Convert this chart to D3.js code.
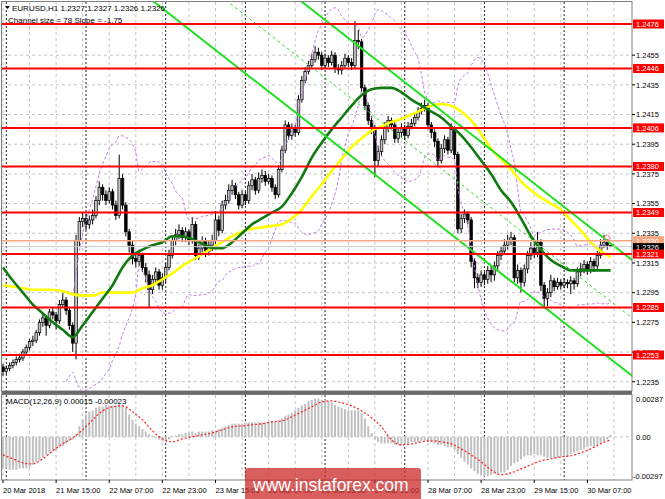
<!DOCTYPE html>
<html><head><meta charset="utf-8">
<script src="https://cdn.jsdelivr.net/npm/d3@7"></script>
<style>html,body{margin:0;padding:0;background:#fff;} svg{display:block;font-family:"Liberation Sans",Arial,sans-serif;}</style>
</head><body><svg id="c" width="665" height="499"></svg>
<script>
// ---------------- data ----------------
const symbolInfo = "EURUSD,H1";
const headerOHLC = ["1.2327", "1.2327", "1.2326", "1.2326"];
const channelText = "Channel size = 78 Slope = -1.75";
const macdText = "MACD(12,26,9) 0.00015 -0.00023";

const firstOpen = 1.2245;
const closes = [1.2242,1.2244,1.2246,1.2248,1.2250,1.2251,1.2255,1.2258,1.2262,1.2263,
1.2268,1.2275,1.2278,1.2273,1.2282,1.2280,1.2276,1.2287,1.2290,1.2283,
1.2273,1.2261,1.2330,1.2343,1.2345,1.2341,1.2344,1.2347,1.2357,1.2366,
1.2361,1.2357,1.2363,1.2354,1.2347,1.2372,1.2354,1.2336,1.2327,1.2318,
1.2316,1.2320,1.2312,1.2307,1.2297,1.2304,1.2309,1.2300,1.2305,1.2312,
1.2320,1.2330,1.2334,1.2337,1.2332,1.2336,1.2330,1.2341,1.2320,1.2325,
1.2330,1.2323,1.2327,1.2330,1.2344,1.2337,1.2354,1.2357,1.2364,1.2367,
1.2361,1.2354,1.2361,1.2357,1.2367,1.2371,1.2364,1.2372,1.2374,1.2370,
1.2372,1.2366,1.2361,1.2378,1.2391,1.2408,1.2401,1.2406,1.2403,1.2425,
1.2438,1.2444,1.2448,1.2452,1.2457,1.2455,1.2448,1.2453,1.2450,1.2455,
1.2446,1.2445,1.2448,1.2453,1.2450,1.2448,1.2465,1.2464,1.2433,1.2421,
1.2411,1.2406,1.2384,1.2390,1.2398,1.2406,1.2411,1.2408,1.2399,1.2403,
1.2406,1.2401,1.2407,1.2409,1.2413,1.2417,1.2419,1.2421,1.2408,1.2403,
1.2397,1.2384,1.2392,1.2398,1.2391,1.2405,1.2388,1.2338,1.2345,1.2348,
1.2344,1.2316,1.2305,1.2302,1.2307,1.2304,1.2310,1.2307,1.2313,1.2320,
1.2323,1.2327,1.2330,1.2332,1.2305,1.2310,1.2302,1.2311,1.2320,1.2325,
1.2322,1.2329,1.2300,1.2291,1.2295,1.2303,1.2299,1.2302,1.2300,1.2302,
1.2301,1.2303,1.2301,1.2309,1.2311,1.2314,1.2310,1.2316,1.2313,1.2320,
1.2327,1.2329,1.2327,1.2326];
const highs = [1.2247,1.2246,1.2248,1.2250,1.2252,1.2254,1.2257,1.2260,1.2264,1.2266,
1.2270,1.2277,1.2281,1.2280,1.2284,1.2285,1.2282,1.2290,1.2295,1.2292,
1.2285,1.2275,1.2334,1.2346,1.2349,1.2348,1.2347,1.2351,1.2360,1.2370,
1.2368,1.2364,1.2366,1.2365,1.2357,1.2388,1.2375,1.2356,1.2338,1.2330,
1.2322,1.2324,1.2322,1.2315,1.2310,1.2307,1.2312,1.2311,1.2308,1.2315,
1.2324,1.2333,1.2338,1.2341,1.2339,1.2339,1.2338,1.2346,1.2343,1.2328,
1.2333,1.2332,1.2330,1.2334,1.2350,1.2347,1.2357,1.2361,1.2368,1.2371,
1.2369,1.2363,1.2364,1.2363,1.2370,1.2375,1.2373,1.2376,1.2378,1.2377,
1.2375,1.2374,1.2368,1.2381,1.2394,1.2411,1.2410,1.2409,1.2408,1.2428,
1.2441,1.2447,1.2451,1.2456,1.2461,1.2460,1.2457,1.2456,1.2455,1.2458,
1.2457,1.2449,1.2451,1.2456,1.2455,1.2453,1.2478,1.2472,1.2466,1.2435,
1.2423,1.2414,1.2408,1.2394,1.2401,1.2410,1.2414,1.2413,1.2410,1.2406,
1.2409,1.2408,1.2410,1.2412,1.2416,1.2420,1.2423,1.2425,1.2423,1.2410,
1.2405,1.2399,1.2395,1.2401,1.2400,1.2409,1.2407,1.2390,1.2348,1.2351,
1.2350,1.2346,1.2318,1.2308,1.2310,1.2309,1.2313,1.2313,1.2316,1.2323,
1.2326,1.2331,1.2334,1.2336,1.2334,1.2314,1.2312,1.2314,1.2323,1.2329,
1.2328,1.2336,1.2331,1.2302,1.2298,1.2307,1.2305,1.2305,1.2304,1.2305,
1.2304,1.2306,1.2305,1.2312,1.2315,1.2317,1.2316,1.2319,1.2318,1.2323,
1.2331,1.2334,1.2331,1.2327];
const lows = [1.2239,1.2240,1.2242,1.2244,1.2246,1.2248,1.2249,1.2253,1.2256,1.2259,
1.2261,1.2266,1.2272,1.2266,1.2271,1.2277,1.2270,1.2274,1.2285,1.2280,
1.2270,1.2255,1.2250,1.2326,1.2339,1.2337,1.2338,1.2341,1.2345,1.2354,
1.2357,1.2354,1.2355,1.2351,1.2344,1.2345,1.2351,1.2333,1.2322,1.2314,
1.2312,1.2313,1.2309,1.2302,1.2285,1.2294,1.2301,1.2297,1.2297,1.2302,
1.2310,1.2318,1.2327,1.2331,1.2329,1.2329,1.2327,1.2328,1.2317,1.2317,
1.2322,1.2319,1.2320,1.2323,1.2328,1.2333,1.2335,1.2351,1.2355,1.2361,
1.2358,1.2351,1.2352,1.2354,1.2355,1.2364,1.2361,1.2362,1.2369,1.2367,
1.2368,1.2363,1.2358,1.2359,1.2376,1.2389,1.2398,1.2398,1.2400,1.2401,
1.2423,1.2436,1.2442,1.2446,1.2450,1.2452,1.2445,1.2446,1.2447,1.2448,
1.2443,1.2442,1.2442,1.2446,1.2447,1.2445,1.2446,1.2459,1.2430,1.2418,
1.2408,1.2402,1.2373,1.2380,1.2387,1.2395,1.2403,1.2405,1.2396,1.2396,
1.2400,1.2398,1.2399,1.2405,1.2407,1.2411,1.2415,1.2417,1.2405,1.2399,
1.2393,1.2380,1.2382,1.2389,1.2388,1.2389,1.2385,1.2335,1.2335,1.2342,
1.2341,1.2312,1.2298,1.2298,1.2299,1.2300,1.2301,1.2302,1.2303,1.2310,
1.2317,1.2321,1.2324,1.2327,1.2302,1.2301,1.2295,1.2299,1.2308,1.2317,
1.2318,1.2319,1.2296,1.2285,1.2286,1.2292,1.2296,1.2297,1.2297,1.2298,
1.2298,1.2294,1.2297,1.2299,1.2306,1.2308,1.2307,1.2308,1.2309,1.2310,
1.2318,1.2325,1.2324,1.2326];

// moving averages read every 3 bars
const maStep = 3;
const maGreen = [1.2312,1.2303,1.2295,1.2287,1.2281,1.2275,1.2270,1.2265,1.2273,1.2282,
1.2291,1.2300,1.2312,1.2320,1.2324,1.2327,1.2329,1.2333,1.2333,1.2331,
1.2328,1.2325,1.2325,1.2329,1.2335,1.2341,1.2345,1.2349,1.2353,1.2362,
1.2373,1.2386,1.2396,1.2405,1.2413,1.2421,1.2428,1.2432,1.2433,1.2433,
1.2430,1.2425,1.2421,1.2417,1.2413,1.2407,1.2401,1.2393,1.2384,1.2375,
1.2364,1.2356,1.2345,1.2333,1.2324,1.2317,1.2313,1.2310,1.2310,1.2310,
1.2310,1.2310];
const maYellow = [1.2300,1.2299,1.2298,1.2297,1.2297,1.2297,1.2296,1.2294,1.2293,1.2293,
1.2295,1.2295,1.2295,1.2295,1.2298,1.2300,1.2304,1.2308,1.2313,1.2317,
1.2321,1.2325,1.2329,1.2333,1.2336,1.2338,1.2339,1.2340,1.2341,1.2345,
1.2351,1.2360,1.2368,1.2377,1.2385,1.2393,1.2399,1.2404,1.2407,1.2410,
1.2412,1.2415,1.2418,1.2421,1.2422,1.2421,1.2417,1.2411,1.2402,1.2392,
1.2385,1.2378,1.2370,1.2364,1.2359,1.2355,1.2351,1.2344,1.2337,1.2329,
1.2323,1.2319];

const macdHist = [-0.0024,-0.0024,-0.0025,-0.0025,-0.0025,-0.0024,-0.0024,-0.0024,-0.0023,-0.0021,
-0.0019,-0.0018,-0.0016,-0.0014,-0.0012,-0.0011,-0.0010,-0.0008,-0.0007,-0.0005,
-0.0003,-0.0002,0.0002,0.0008,0.0013,0.0017,0.0019,0.0020,0.0022,0.0023,
0.0023,0.0024,0.0024,0.0024,0.0024,0.0025,0.0024,0.0022,0.0017,0.0013,
0.0010,0.0008,0.0006,0.0004,0.0002,0.0001,-0.0001,-0.0002,-0.0003,-0.0004,
-0.0002,0.0000,0.0001,0.0002,0.0002,0.0003,0.0003,0.0004,0.0003,0.0004,
0.0004,0.0004,0.0004,0.0005,0.0005,0.0006,0.0007,0.0008,0.0009,0.0010,
0.0010,0.0010,0.0010,0.0011,0.0011,0.0011,0.0011,0.0011,0.0011,0.0011,
0.0011,0.0012,0.0012,0.0013,0.0014,0.0016,0.0017,0.0018,0.0020,0.0022,
0.0024,0.0025,0.0027,0.0028,0.0029,0.0029,0.0028,0.0028,0.0027,0.0026,
0.0024,0.0023,0.0022,0.0021,0.0020,0.0020,0.0020,0.0020,0.0018,0.0014,
0.0008,0.0003,-0.0002,-0.0004,-0.0005,-0.0005,-0.0005,-0.0005,-0.0006,-0.0006,
-0.0006,-0.0005,-0.0005,-0.0004,-0.0004,-0.0004,-0.0003,-0.0003,-0.0004,-0.0004,
-0.0005,-0.0006,-0.0006,-0.0007,-0.0008,-0.0008,-0.0010,-0.0013,-0.0016,-0.0019,
-0.0021,-0.0024,-0.0026,-0.0028,-0.0029,-0.0030,-0.0030,-0.0029,-0.0028,-0.0028,
-0.0027,-0.0027,-0.0025,-0.0022,-0.0020,-0.0019,-0.0017,-0.0015,-0.0014,-0.0014,
-0.0013,-0.0014,-0.0014,-0.0015,-0.0016,-0.0016,-0.0016,-0.0016,-0.0015,-0.0015,
-0.0015,-0.0013,-0.0012,-0.0011,-0.0010,-0.0009,-0.0008,-0.0007,-0.0007,-0.0006,
-0.0005,-0.0004,-0.0002,0.00015];
const macdSignal = [-0.00137,-0.00167,-0.00197,-0.00205,-0.00167,-0.00106,-0.00053,-0.00008,0.00053,0.00129,
0.00197,0.00228,0.00235,0.0019,0.00129,0.00046,-0.00015,-0.00038,-0.00015,0,
0.00015,0.0003,0.00053,0.00076,0.00083,0.00091,0.00099,0.00114,0.00121,0.00152,
0.0019,0.00228,0.00265,0.00273,0.00258,0.00235,0.00197,0.00144,0.00076,-0.00023,
-0.00061,-0.00053,-0.00038,-0.0003,-0.00038,-0.00053,-0.00091,-0.00137,-0.0019,-0.0025,
-0.00288,-0.00273,-0.00243,-0.00212,-0.00182,-0.00167,-0.00152,-0.00144,-0.00121,-0.00091,
-0.00053,-0.00023];

const levels = [1.2476, 1.2446, 1.2406, 1.2380, 1.2349, 1.2321, 1.2285, 1.2253];
const askLevel = 1.2330;
const bidLevel = 1.2326;
const priceTicks = [1.2455, 1.2435, 1.2415, 1.2395, 1.2375, 1.2355, 1.2335, 1.2315, 1.2295, 1.2275, 1.2255, 1.2235];
const macdTicks = [0.00287, 0, -0.00297];
const macdTickLabels = ["0.00287", "0.00", "-0.00297"];
const timeLabels = ["20 Mar 2018", "21 Mar 15:00", "22 Mar 07:00", "22 Mar 23:00", "23 Mar 15:00", "26 Mar 07:00",
  "26 Mar 23:00", "27 Mar 15:00", "28 Mar 07:00", "28 Mar 23:00", "29 Mar 15:00", "30 Mar 07:00"];
const timeLabelBars = [0, 16, 32, 48, 64, 80, 96, 112, 128, 144, 160, 176];
const daySeparatorBars = [1, 25, 49, 73, 97, 121, 145, 169];
const channelBars = [40, 190];
const channelUpper = [1.25785, 1.2316];
const channelSize = 0.0078;
const bbPeriod = 20, bbDev = 2;
const markerBar = 182, markerPrice = 1.2332;
const watermark = "www.instaforex.com";

// ---------------- layout ----------------
const svg = d3.select("#c");
const L = 2, R = 632, T = 2, B = 391, MT = 395, MB = 480;
const font = 7.5;

svg.append("rect").attr("width", 665).attr("height", 499).attr("fill", "#fff");

const x = d3.scaleLinear().domain([0, 183]).range([3, 610.6]);
const y = d3.scaleLinear().domain([1.2253, 1.2476]).range([355, 24]);
const ym = d3.scaleLinear().domain([-0.00297, 0.00287]).range([476, 399]);
const lastBar = Math.floor(x.invert(R));

const defs = svg.append("defs");
defs.append("clipPath").attr("id", "cm").append("rect").attr("x", L).attr("y", T).attr("width", R - L).attr("height", B - T);
defs.append("clipPath").attr("id", "cd").append("rect").attr("x", L).attr("y", MT).attr("width", R - L).attr("height", MB - MT);

const gMain = svg.append("g").attr("clip-path", "url(#cm)");
const gMacd = svg.append("g").attr("clip-path", "url(#cd)");

// grid
const gridBars = d3.range(0, lastBar + 1, 8);
[[gMain, T, B], [gMacd, MT, MB]].forEach(([g, t, b]) => {
  g.selectAll(null).data(gridBars).join("line")
    .attr("x1", d => x(d)).attr("x2", d => x(d)).attr("y1", t).attr("y2", b)
    .attr("stroke", "#c4c4c4").attr("stroke-width", 1).attr("stroke-dasharray", "3,3");
  g.selectAll(null).data(daySeparatorBars).join("line")
    .attr("x1", d => x(d)).attr("x2", d => x(d)).attr("y1", t).attr("y2", b)
    .attr("stroke", "#222").attr("stroke-width", 1).attr("stroke-dasharray", "2,2");
});
gMain.selectAll(null).data(priceTicks).join("line")
  .attr("x1", L).attr("x2", R).attr("y1", d => y(d)).attr("y2", d => y(d))
  .attr("stroke", "#c4c4c4").attr("stroke-dasharray", "3,3");
gMacd.append("line").attr("x1", L).attr("x2", R).attr("y1", ym(0)).attr("y2", ym(0))
  .attr("stroke", "#c4c4c4").attr("stroke-dasharray", "3,3");

// candles
const bars = closes.map((c, i) => ({ i, o: i ? closes[i - 1] : firstOpen, c, h: highs[i], l: lows[i] }));
const gc = gMain.append("g");
gc.selectAll(null).data(bars).join("line")
  .attr("x1", d => x(d.i)).attr("x2", d => x(d.i))
  .attr("y1", d => y(d.h)).attr("y2", d => y(d.l))
  .attr("stroke", "#000").attr("stroke-width", 1);
gc.selectAll(null).data(bars).join("rect")
  .attr("x", d => x(d.i) - 1.3).attr("width", 2.6)
  .attr("y", d => y(Math.max(d.o, d.c)))
  .attr("height", d => Math.max(0.8, Math.abs(y(d.o) - y(d.c))))
  .attr("fill", d => d.c >= d.o ? "#c4c4c4" : "#000")
  .attr("stroke", "#000").attr("stroke-width", 0.7);

// Bollinger-type bands (purple dashed) computed from closes
const bb = [];
for (let i = bbPeriod - 1; i < closes.length; i++) {
  const w = closes.slice(i - bbPeriod + 1, i + 1);
  const m = d3.mean(w);
  const sd = Math.sqrt(d3.mean(w, v => (v - m) * (v - m)));
  bb.push({ i, up: m + bbDev * sd, lo: m - bbDev * sd });
}
["up", "lo"].forEach(k => {
  gMain.append("path").datum(bb)
    .attr("d", d3.line().x(d => x(d.i)).y(d => y(d[k])).curve(d3.curveMonotoneX))
    .attr("fill", "none").attr("stroke", "#c27ee6").attr("stroke-width", 1).attr("stroke-dasharray", "3,2");
});

// moving averages
const maLine = d3.line().x((d, k) => x(k * maStep)).y(d => y(d)).curve(d3.curveMonotoneX);
gMain.append("path").datum(maYellow).attr("d", maLine)
  .attr("fill", "none").attr("stroke", "#ffff00").attr("stroke-width", 2.6);
gMain.append("path").datum(maGreen).attr("d", maLine)
  .attr("fill", "none").attr("stroke", "#107a10").attr("stroke-width", 2.6);

// regression channel
const chan = [
  { off: 0, w: 2, dash: null },
  { off: channelSize / 2, w: 1, dash: "3,3" },
  { off: channelSize, w: 2, dash: null }
];
chan.forEach(c => {
  gMain.append("line")
    .attr("x1", x(channelBars[0])).attr("x2", x(channelBars[1]))
    .attr("y1", y(channelUpper[0] - c.off)).attr("y2", y(channelUpper[1] - c.off))
    .attr("stroke", "#22e022").attr("stroke-width", c.w).attr("stroke-dasharray", c.dash);
});

// levels
gMain.append("line").attr("x1", L).attr("x2", R).attr("y1", y(askLevel)).attr("y2", y(askLevel))
  .attr("stroke", "#f7a680").attr("stroke-width", 1.6);
gMain.append("line").attr("x1", L).attr("x2", R).attr("y1", y(bidLevel)).attr("y2", y(bidLevel))
  .attr("stroke", "#c8c8c8").attr("stroke-width", 1);
gMain.selectAll(null).data(levels).join("line")
  .attr("x1", L).attr("x2", R).attr("y1", d => y(d)).attr("y2", d => y(d))
  .attr("stroke", "#ff0000").attr("stroke-width", 2);
gMain.append("circle").attr("cx", x(markerBar)).attr("cy", y(markerPrice)).attr("r", 2.6)
  .attr("fill", "none").attr("stroke", "#ff7f8a").attr("stroke-width", 1);

// MACD
gMacd.selectAll(null).data(macdHist).join("rect")
  .attr("x", (d, i) => x(i) - 1).attr("width", 2)
  .attr("y", d => Math.min(ym(d), ym(0)))
  .attr("height", d => Math.abs(ym(d) - ym(0)))
  .attr("fill", "#c0c0c0");
gMacd.append("path").datum(macdSignal)
  .attr("d", d3.line().x((d, k) => x(k * maStep)).y(d => ym(d)).curve(d3.curveMonotoneX))
  .attr("fill", "none").attr("stroke", "#ff2020").attr("stroke-width", 1.2).attr("stroke-dasharray", "2,2");

// frames
svg.append("rect").attr("x", 1.5).attr("y", 1.5).attr("width", R - 1.5).attr("height", B - 1.5)
  .attr("fill", "none").attr("stroke", "#808080");
svg.append("rect").attr("x", 1.5).attr("y", B).attr("width", R - 1.5).attr("height", 3).attr("fill", "#6a6a6a");
svg.append("rect").attr("x", 1.5).attr("y", MT - 0.5).attr("width", R - 1.5).attr("height", MB - MT + 0.5)
  .attr("fill", "none").attr("stroke", "#808080");

// right axis labels
const ax = svg.append("g").attr("font-size", font).attr("fill", "#000");
ax.selectAll(null).data(priceTicks).join("line")
  .attr("x1", R).attr("x2", R + 3).attr("y1", d => y(d)).attr("y2", d => y(d)).attr("stroke", "#000");
ax.selectAll(null).data(priceTicks).join("text")
  .attr("x", 636).attr("y", d => y(d) + 2.8).text(d => d.toFixed(4));
// ask / bid labels
ax.append("rect").attr("x", R + 1).attr("y", y(askLevel) - 4.5).attr("width", 31).attr("height", 9).attr("fill", "#f7a680");
ax.append("text").attr("x", 636).attr("y", y(askLevel) + 2.8).attr("fill", "#fff").text(askLevel.toFixed(4));
ax.append("rect").attr("x", R + 1).attr("y", y(bidLevel) - 3.5).attr("width", 31).attr("height", 8).attr("fill", "#000");
ax.append("text").attr("x", 636).attr("y", y(bidLevel) + 3).attr("fill", "#fff").text(bidLevel.toFixed(4));
// level labels
ax.selectAll(null).data(levels).join("rect")
  .attr("x", R + 1).attr("y", d => y(d) - 4.5).attr("width", 31).attr("height", 9).attr("fill", "#ff0000");
ax.selectAll(null).data(levels).join("text")
  .attr("x", 636).attr("y", d => y(d) + 2.8).attr("fill", "#fff").text(d => d.toFixed(4));
// macd labels
ax.selectAll(null).data(macdTicks).join("text")
  .attr("x", d => d < 0 ? 633 : 636).attr("y", d => ym(d) + 2.8).text((d, i) => macdTickLabels[i]);

// time axis
ax.selectAll(null).data(timeLabelBars).join("line")
  .attr("x1", d => x(d)).attr("x2", d => x(d)).attr("y1", MB).attr("y2", MB + 3).attr("stroke", "#000");
ax.selectAll(null).data(timeLabelBars).join("text")
  .attr("x", d => x(d)).attr("y", 493).text((d, i) => timeLabels[i]);

// header texts
svg.append("path").attr("d", "M5,6 L10,6 L7.5,9 Z").attr("fill", "#000");
svg.append("text").attr("x", 12).attr("y", 10.5).attr("font-size", 8)
  .text(symbolInfo + "  " + headerOHLC.join(" "));
svg.append("text").attr("x", 8).attr("y", 22.5).attr("font-size", 8).text(channelText);
svg.append("text").attr("x", 6).attr("y", 404).attr("font-size", 8).text(macdText);

// watermark (overlays the time labels, as in the original screenshot)
const wm = svg.append("g");
wm.append("rect").attr("x", 245).attr("y", 468).attr("width", 176).attr("height", 36).attr("rx", 3)
  .attr("fill", "#cc2a2a").attr("opacity", 0.75);
wm.append("text").attr("x", 253).attr("y", 491).attr("font-size", 17.5).attr("fill", "#fff").text(watermark);
</script></body></html>
